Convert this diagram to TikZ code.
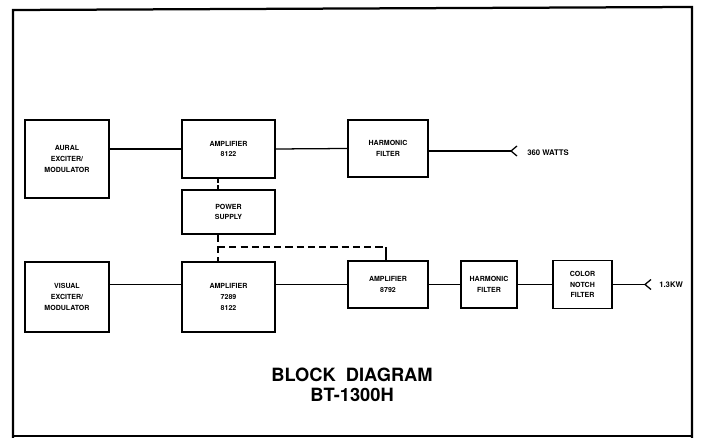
\documentclass[tikz,border=0pt]{standalone}
\usepackage{fontspec}
\setmainfont{TeX Gyre Heros}
\tikzset{
    block/.style={draw, line width=0.9pt, align=center, inner sep=1pt,
        font=\bfseries\fontsize{5}{7.6}\selectfont},
    outlabel/.style={anchor=west, inner sep=0pt, font=\bfseries\fontsize{5.5}{7}\selectfont},
    wire/.style={line width=0.9pt},
    supply/.style={line width=0.9pt, dash pattern=on 5pt off 3pt}
}
\begin{document}
\begin{tikzpicture}[
            x=0.025cm,
            y=-0.025cm
        ]
        \useasboundingbox (0,0) rectangle (705,438);
        \draw[line width=1.6pt] (13,438) -- (13,10) -- (692,7) -- (692,438);
        \draw[line width=1.2pt] (13,436) -- (692,436);

        % aural chain
        \node[block, minimum width=2.1cm, minimum height=1.95cm] (aural) at (67,159) {AURAL\\EXCITER/\\MODULATOR};
        \node[block, minimum width=2.325cm, minimum height=1.45cm] (ampaur) at (228.5,149) {AMPLIFIER\\8122};
        \node[block, minimum width=2.0cm, minimum height=1.425cm] (harmaur) at (388,148.5) {HARMONIC\\FILTER};
        \node[block, minimum width=2.325cm, minimum height=1.1cm] (power) at (228.5,212) {POWER\\SUPPLY};

        % visual chain
        \node[block, minimum width=2.1cm, minimum height=1.75cm] (visual) at (67,297) {VISUAL\\EXCITER/\\MODULATOR};
        \node[block, minimum width=2.325cm, minimum height=1.75cm] (ampvis) at (228.5,297) {AMPLIFIER\\7289\\8122};
        \node[block, minimum width=2.0cm, minimum height=1.175cm] (ampfin) at (388,284.5) {AMPLIFIER\\8792};
        \node[block, minimum width=1.4cm, minimum height=1.175cm] (harmvis) at (489,284.5) {HARMONIC\\FILTER};
        \node[block, minimum width=1.475cm, minimum height=1.2cm] (notch) at (582.5,284.5) {COLOR\\NOTCH\\FILTER};

        \coordinate (outaur) at (511,151);
        \coordinate (outvis) at (645,284.5);
        \coordinate (tap) at (218,247);
        \coordinate (drop) at (386,247);

        \draw[wire] (aural.east |- ampaur.west) -- (ampaur.west);
        \draw[wire] (ampaur.east) -- (harmaur.west);
        \draw[wire] (harmaur.east |- outaur) -- (outaur);
        \draw[wire] (outaur) ++(6,-5) -- (outaur) -- ++(6,5);
        \node[outlabel] (wattsaur) at (527,153) {360 WATTS};

        \draw[wire] (visual.east |- ampfin.west) -- (ampvis.west |- ampfin.west);
        \draw[wire] (ampvis.east |- ampfin.west) -- (ampfin.west);
        \draw[wire] (ampfin.east) -- (harmvis.west);
        \draw[wire] (harmvis.east) -- (notch.west);
        \draw[wire] (notch.east) -- (outvis);
        \draw[wire] (outvis) ++(6,-5) -- (outvis) -- ++(6,5);
        \node[outlabel] (wattsvis) at (659,284.5) {1.3KW};

        \draw[supply, dash pattern=on 3pt off 1.5pt] (ampaur.south -| tap) -- (power.north -| tap);
        \draw[supply] (power.south -| tap) -- (ampvis.north -| tap);
        \draw[supply] (tap) -- (drop);
        \draw[line width=0.9pt] (drop) -- (ampfin.north -| drop);

        \node[font=\bfseries\fontsize{13}{14.5}\selectfont, align=center] (title) at (352,385) {BLOCK\ \ DIAGRAM\\BT-1300H};
    \end{tikzpicture}
\end{document}
